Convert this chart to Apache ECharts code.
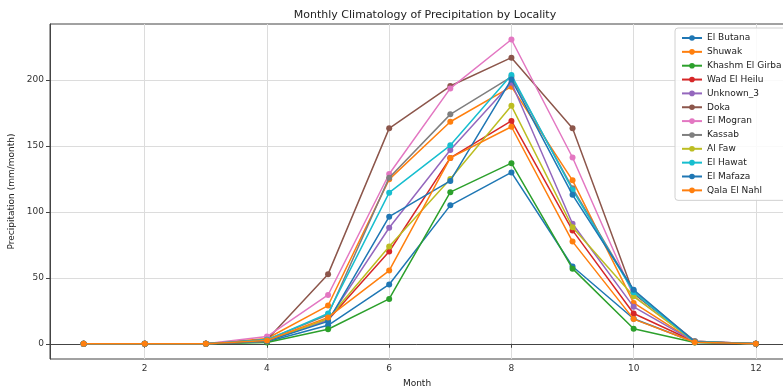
<!DOCTYPE html>
<html>
<head>
<meta charset="utf-8">
<script src="https://cdn.jsdelivr.net/npm/echarts@6/dist/echarts.min.js"></script>
<style>
  html, body { margin: 0; padding: 0; background: #fff; }
  #chart { width: 783px; height: 390px; }
</style>
</head>
<body>
<div id="chart"></div>
<script>
// months 1..12
const months = [1, 2, 3, 4, 5, 6, 7, 8, 9, 10, 11, 12];

const elButana = [0, 0, 0, 1.5, 14, 45, 105, 130, 58.6, 19, 1.2, 0];
const shuwak = [0, 0, 0, 4, 29, 124.7, 168.4, 195, 124, 31, 1.5, 0];
const khashmElGirba = [0, 0, 0, 1, 11, 34, 115, 137, 57, 11.4, 1, 0];
const wadElHeilu = [0, 0, 0, 2, 18, 70, 141, 169, 86, 23, 1.5, 0];
const unknown3 = [0, 0, 0, 2, 18, 88, 147, 198, 91, 28, 1.5, 0];
const doka = [0, 0, 0, 3, 52.8, 163.4, 195.5, 217, 163.4, 38, 2, 0];
const elMogran = [0, 0, 0, 5.5, 37, 128.8, 193.7, 230.8, 141.3, 36, 2, 0];
const kassab = [0, 0, 0, 3, 22, 126, 174, 202.5, 118, 40, 2, 0];
const alFaw = [0, 0, 0, 2, 19, 73.7, 125, 180.5, 88.4, 36, 1.5, 0];
const elHawat = [0, 0, 0, 3, 23, 114.6, 150.5, 203.8, 116.7, 39, 1.5, 0];
const elMafaza = [0, 0, 0, 2, 17, 96.4, 123.5, 200.5, 113, 41, 1.5, 0];
const qalaElNahl = [0, 0, 0, 2.5, 20, 55.5, 141, 164.6, 77.5, 18.7, 1.2, 0];

const localities = [
  ["El Butana", elButana],
  ["Shuwak", shuwak],
  ["Khashm El Girba", khashmElGirba],
  ["Wad El Heilu", wadElHeilu],
  ["Unknown_3", unknown3],
  ["Doka", doka],
  ["El Mogran", elMogran],
  ["Kassab", kassab],
  ["Al Faw", alFaw],
  ["El Hawat", elHawat],
  ["El Mafaza", elMafaza],
  ["Qala El Nahl", qalaElNahl],
];

const xTicks = [2, 4, 6, 8, 10, 12];
const yTicks = [0, 50, 100, 150, 200];

// matplotlib tab10 cycle
const palette = [
  "#1f77b4", "#ff7f0e", "#2ca02c", "#d62728", "#9467bd",
  "#8c564b", "#e377c2", "#7f7f7f", "#bcbd22", "#17becf",
];

const font = "DejaVu Sans";

const chart = echarts.init(document.getElementById("chart"), null, { renderer: "canvas" });

const options = {
  backgroundColor: "#fff",
  animation: false,
  color: palette,
  textStyle: { fontFamily: font },
  title: {
    text: "Monthly Climatology of Precipitation by Locality",
    left: 420,
    textAlign: "center",
    top: 5,
    textStyle: { fontFamily: font, fontSize: 11, fontWeight: "normal", color: "#222" },
  },
  legend: {
    orient: "vertical",
    left: 675,
    top: 28,
    padding: [5, 8, 5, 6],
    itemWidth: 20,
    itemHeight: 7,
    itemGap: 3.85,
    backgroundColor: "rgba(255,255,255,0.85)",
    borderColor: "#d0d0d0",
    borderWidth: 1,
    borderRadius: 3,
    textStyle: { fontFamily: font, fontSize: 9, color: "#222", lineHeight: 10 },
    data: localities.map(([name]) => name),
  },
  grid: {
    left: 50,
    right: -1,
    top: 24,
    bottom: 31,
    outerBoundsMode: "none",
    containLabel: false,
    show: true,
    borderColor: "#444",
    borderWidth: 1,
  },
  xAxis: {
    type: "value",
    min: 0.45,
    max: 12.46,
    name: "Month",
    nameLocation: "middle",
    nameGap: 20,
    nameTextStyle: { fontFamily: font, fontSize: 9, color: "#222" },
    axisLine: { show: true, lineStyle: { color: "#444" } },
    axisTick: { show: true, length: 4, customValues: xTicks, lineStyle: { color: "#444" } },
    axisLabel: { customValues: xTicks, fontFamily: font, fontSize: 9, color: "#333", margin: 5 },
    splitNumber: 6,
    splitLine: { show: true, lineStyle: { color: "#dcdcdc", width: 1 } },
  },
  yAxis: {
    type: "value",
    min: -11.55,
    max: 242.55,
    name: "Precipitation (mm/month)",
    nameLocation: "middle",
    nameGap: 34,
    nameTextStyle: { fontFamily: font, fontSize: 9, color: "#222" },
    axisLine: { show: true, lineStyle: { color: "#444" } },
    axisTick: { show: true, length: 4, customValues: yTicks, lineStyle: { color: "#444" } },
    axisLabel: { customValues: yTicks, fontFamily: font, fontSize: 9, color: "#333", margin: 6 },
    splitNumber: 5,
    splitLine: { show: true, lineStyle: { color: "#dcdcdc", width: 1 } },
  },
  series: localities.map(([name, values], i) => ({
    name,
    type: "line",
    color: palette[i % palette.length],
    symbol: "circle",
    symbolSize: 6,
    showSymbol: true,
    lineStyle: { width: 1.5 },
    data: months.map((m, j) => [m, values[j]]),
    z: 2 + i,
  })),
};

chart.setOption(options);
</script>
</body>
</html>
